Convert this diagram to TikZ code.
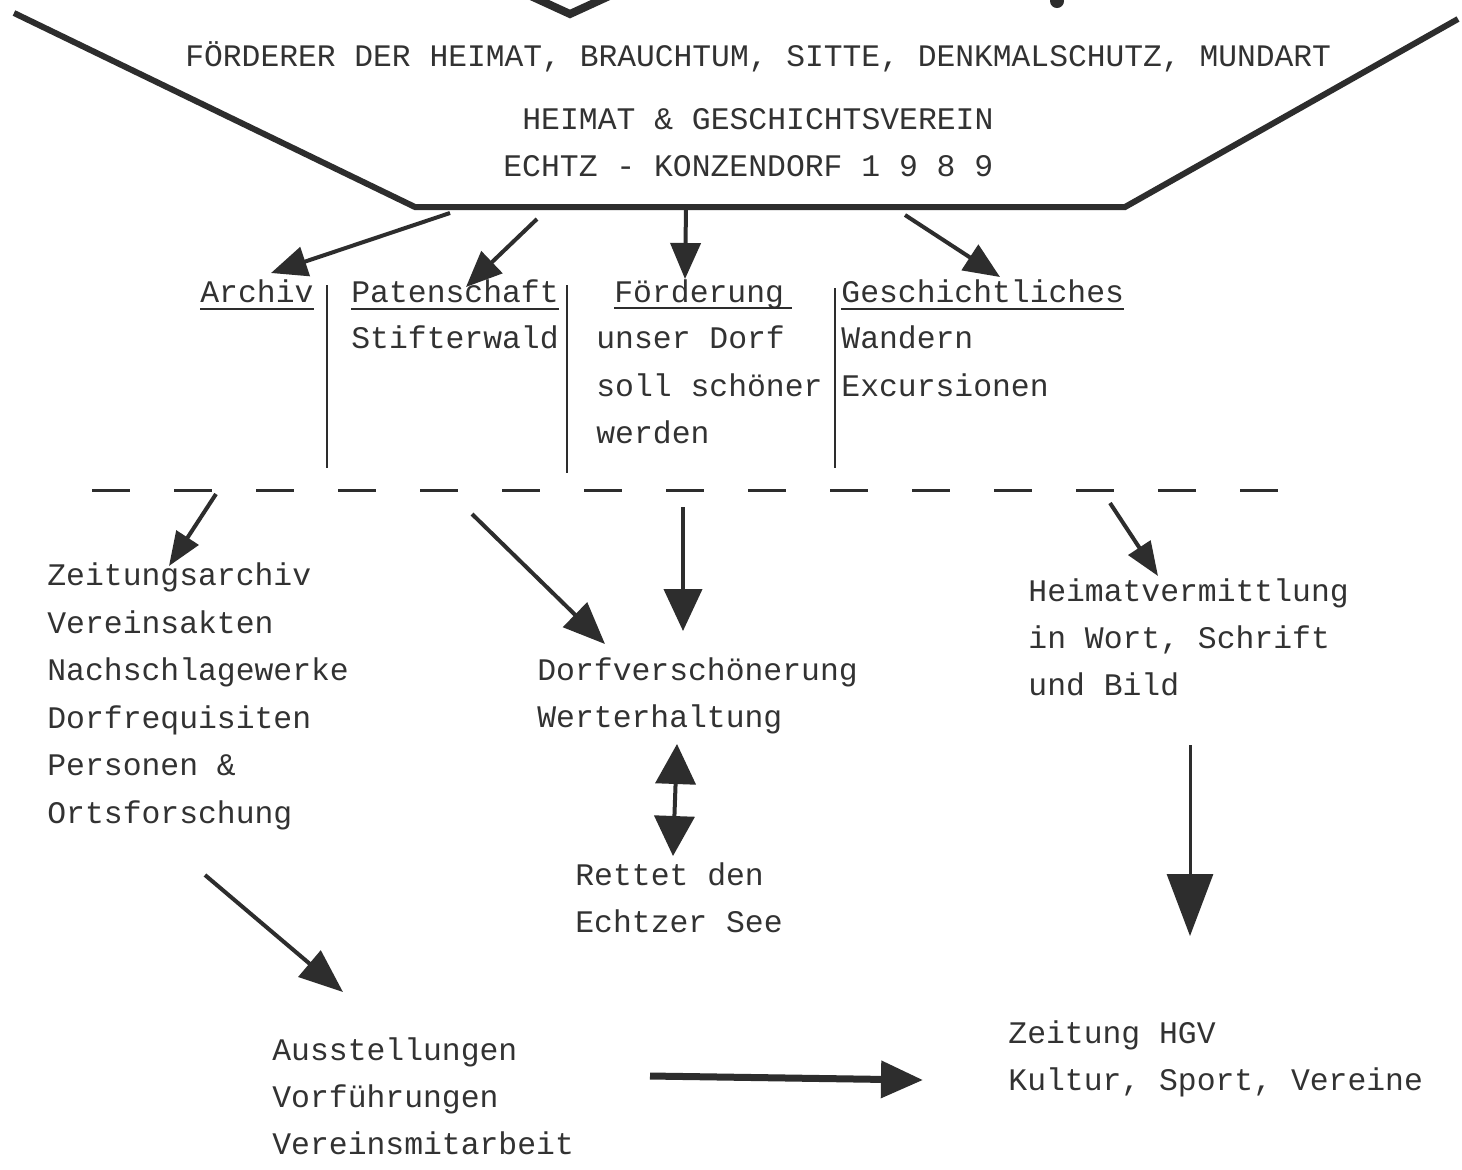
\documentclass[tikz,border=0pt]{standalone}
\usepackage{fontspec}
\newfontfamily\tw{Liberation Mono}
\usetikzlibrary{arrows.meta}
\definecolor{inkc}{RGB}{45,45,45}
\definecolor{textc}{RGB}{50,50,50}
\begin{document}
\begin{tikzpicture}[x=0.5pt,y=-0.5pt,
  txt/.style={anchor=base west, inner sep=0pt, text=textc, font=\tw\fontsize{15.7}{18}\selectfont},
  toptxt/.style={txt, font=\tw\fontsize{15.65}{18}\selectfont},
  frame/.style={draw=inkc, line width=3pt, line join=miter},
  arr/.style={draw=inkc, line width=2pt, -{Triangle[length=18pt,width=15pt]}},
  sep/.style={draw=inkc, line width=1.1pt},
  uline/.style={draw=inkc, line width=1.1pt},
  dashline/.style={draw=inkc, line width=1.5pt, dash pattern=on 19pt off 22pt},
]
\useasboundingbox (0,0) rectangle (1462,1169);
\clip (0,0) rectangle (1462,1169);
\fill[white] (0,0) rectangle (1462,1169);

% top partial marks
\draw[inkc, line width=4pt, line join=miter] (522,-8) -- (570,14) -- (618,-8);
\fill[inkc] (1057,1) circle[radius=7];

% title text
\node[toptxt] (t1) at (185,66) {FÖRDERER DER HEIMAT, BRAUCHTUM, SITTE, DENKMALSCHUTZ, MUNDART};
\node[txt] (t2) at (522,129) {HEIMAT \& GESCHICHTSVEREIN};
\node[txt] (t3) at (503,176) {ECHTZ - KONZENDORF 1 9 8 9};

% frame
\coordinate (fl) at (14,13);
\coordinate (fbl) at (415,207);
\coordinate (fbr) at (1125,207);
\coordinate (fr) at (1458,19);
\draw[frame] (fl) -- (fbl) -- (fbr) -- (fr);

% headers
\node[txt] (h1) at (200,302) {Archiv};
\node[txt] (h2) at (351,302) {Patenschaft};
\node[txt] (h3) at (614,302) {Förderung};
\node[txt] (h4) at (841,302) {Geschichtliches};
\foreach \h in {h1,h2,h4}{
  \draw[uline] ([yshift=-3.5pt]\h.base west) -- ([yshift=-3.5pt]\h.base east);
}
\draw[uline] ([yshift=-3pt]h3.base west) -- ([yshift=-3pt,xshift=4pt]h3.base east);

% header sub-lines
\node[txt] (p1) at (351,348) {Stifterwald};
\node[txt] (f1) at (596,348) {unser Dorf};
\node[txt] (f2) at (596,396) {soll schöner};
\node[txt] (f3) at (596,443) {werden};
\node[txt] (g1) at (841,348) {Wandern};
\node[txt] (g2) at (841,396) {Excursionen};

% separators
\coordinate (s1a) at (327,285); \coordinate (s1b) at (327,468);
\coordinate (s2a) at (567,285); \coordinate (s2b) at (567,473);
\coordinate (s3a) at (835,288); \coordinate (s3b) at (835,468);
\draw[sep] (s1a) -- (s1b);
\draw[sep] (s2a) -- (s2b);
\draw[sep] (s3a) -- (s3b);

% arrows from frame to headers
\coordinate (a1s) at (450,213); \coordinate (a1e) at (271,273);
\coordinate (a2s) at (537,219); \coordinate (a2e) at (466,287);
\coordinate (a3s) at (686,209); \coordinate (a3e) at (685,279);
\coordinate (a4s) at (905,215); \coordinate (a4e) at (1000,277);
\draw[arr] (a1s) -- (a1e);
\draw[arr] (a2s) -- (a2e);
\draw[arr] (a3s) -- (a3e);
\draw[arr] (a4s) -- (a4e);

% dashed divider
\coordinate (dl) at (92,490);
\coordinate (dr) at (1283,490);
\draw[dashline] (dl) -- (dr);

% left block
\node[txt] (z1) at (47,585) {Zeitungsarchiv};
\node[txt] (z2) at (47,633) {Vereinsakten};
\node[txt] (z3) at (47,680) {Nachschlagewerke};
\node[txt] (z4) at (47,728) {Dorfrequisiten};
\node[txt] (z5) at (47,775) {Personen \&};
\node[txt] (z6) at (47,823) {Ortsforschung};

% middle block
\node[txt] (d1) at (537,680) {Dorfverschönerung};
\node[txt] (d2) at (537,727) {Werterhaltung};
\node[txt] (r1) at (575,885) {Rettet den};
\node[txt] (r2) at (575,932) {Echtzer See};

% right block
\node[txt] (hv1) at (1028,601) {Heimatvermittlung};
\node[txt] (hv2) at (1028,648) {in Wort, Schrift};
\node[txt] (hv3) at (1028,695) {und Bild};

% bottom blocks
\node[txt] (au1) at (272,1060) {Ausstellungen};
\node[txt] (au2) at (272,1107) {Vorführungen};
\node[txt] (au3) at (272,1154) {Vereinsmitarbeit};
\node[txt] (zh1) at (1008,1043) {Zeitung HGV};
\node[txt] (zh2) at (1008,1090) {Kultur, Sport, Vereine};

% arrows from divider
\coordinate (b1s) at (216,494); \coordinate (b1e) at (169,566);
\coordinate (b2s) at (472,514); \coordinate (b2e) at (605,644);
\coordinate (b3s) at (683,507); \coordinate (b3e) at (683,631);
\coordinate (b4s) at (1110,503); \coordinate (b4e) at (1158,576);
\draw[arr, -{Triangle[length=17pt,width=13pt]}] (b1s) -- (b1e);
\draw[arr, -{Triangle[length=21pt,width=17pt]}] (b2s) -- (b2e);
\draw[arr, -{Triangle[length=21pt,width=19pt]}] (b3s) -- (b3e);
\draw[arr, -{Triangle[length=17pt,width=13pt]}] (b4s) -- (b4e);

% double arrow
\coordinate (w1) at (677,744);
\coordinate (w2) at (673,856);
\draw[draw=inkc, line width=2pt, {Triangle[length=20pt,width=20pt]}-{Triangle[length=20pt,width=20pt]}] (w1) -- (w2);

% right long arrow
\coordinate (v1) at (1190,745);
\coordinate (v2) at (1190,936);
\draw[draw=inkc, line width=1.5pt, -{Triangle[length=31pt,width=23pt]}] (v1) -- (v2);

% diagonal to Ausstellungen
\coordinate (e1) at (205,875);
\coordinate (e2) at (343,992);
\draw[arr, -{Triangle[length=22pt,width=17pt]}] (e1) -- (e2);

% horizontal arrow to Zeitung
\coordinate (k1) at (650,1076);
\coordinate (k2) at (923,1080);
\draw[draw=inkc, line width=3.5pt, -{Triangle[length=21pt,width=18pt]}] (k1) -- (k2);
\end{tikzpicture}
\end{document}
